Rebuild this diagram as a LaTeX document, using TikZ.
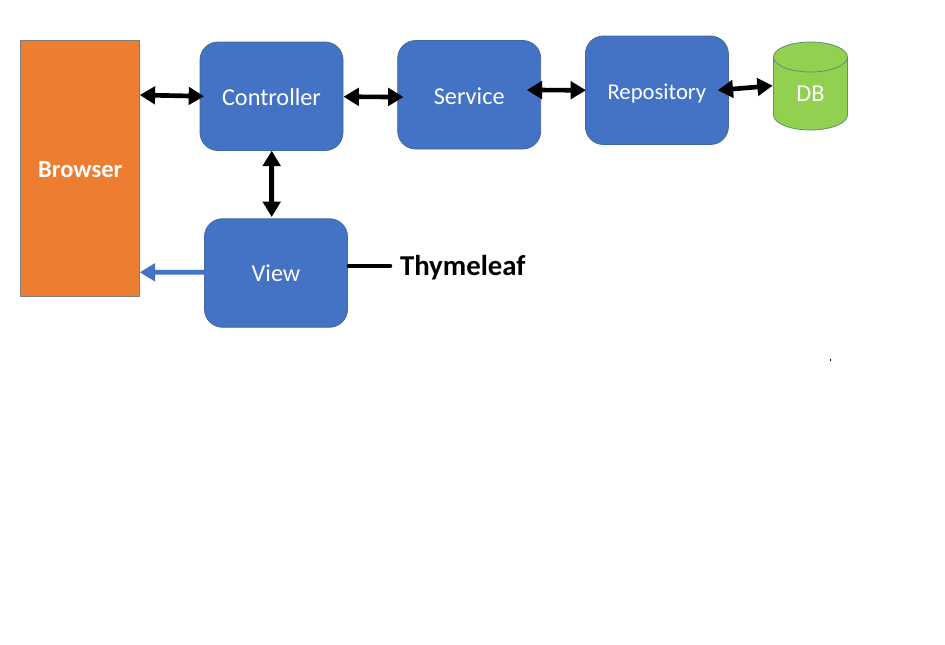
\documentclass[tikz,border=0pt]{standalone}
\usepackage{fontspec}
\setmainfont{Carlito}
\usetikzlibrary{arrows.meta}
\definecolor{boxblue}{HTML}{4472C4}
\definecolor{boxedge}{HTML}{41699F}
\definecolor{orangefill}{HTML}{ED7D31}
\definecolor{orangeedge}{HTML}{7F7F80}
\definecolor{greenfill}{HTML}{92D050}
\definecolor{greenedge}{HTML}{5F8F70}
\newcommand{\baseoff}[2]{\raisebox{-#1}[0pt][0pt]{#2}}
\tikzset{
  x=0.75pt, y=-0.75pt,
  bluebox/.style={draw=boxedge, fill=boxblue, line width=0.6pt, rounded corners=13.5pt,
    minimum width=143*0.75pt, minimum height=108.5*0.75pt, inner sep=0pt, outer sep=0pt,
    text=white, font=\fontsize{18.2pt}{22pt}\selectfont},
  browserbox/.style={draw=orangeedge, fill=orangefill, line width=0.6pt,
    minimum width=119*0.75pt, minimum height=256*0.75pt, inner sep=0pt, outer sep=0pt,
    text=white, font=\fontsize{18.4pt}{22pt}\selectfont\bfseries},
  dbshape/.style={draw=greenedge, fill=greenfill, line width=0.6pt},
  dblabel/.style={minimum width=74*0.75pt, minimum height=72*0.75pt, inner sep=0pt, outer sep=0pt,
    text=white, font=\fontsize{18.2pt}{22pt}\selectfont},
  thymelabel/.style={inner sep=0pt, outer sep=0pt, text=black, font=\fontsize{21.6pt}{26pt}\selectfont\bfseries},
  biarrow/.style={draw=black, line width=3.5pt, {Triangle[length=11.5pt,width=13pt]}-{Triangle[length=11.5pt,width=13pt]}},
  bluearrow/.style={draw=boxblue, line width=3.5pt, -{Triangle[length=11.5pt,width=13pt]}},
  plainline/.style={draw=black, line width=3.5pt, line cap=round},
}
\begin{document}
\begin{tikzpicture}
\useasboundingbox (0,0) rectangle (945,644);
\fill[white] (0,0) rectangle (945,644);
\node[browserbox] (browser) at (80.25,168.75) {\baseoff{6.4pt}{Browser}};
\node[bluebox] (controller) at (271.5,96.25) {\baseoff{6.6pt}{Controller}};
\node[bluebox] (service) at (469.2,94.75) {\baseoff{7.1pt}{Service}};
\node[bluebox] (repository) at (656.9,90.25) {\baseoff{6.6pt}{\fontsize{17pt}{20pt}\selectfont Repository}};
\node[bluebox] (view) at (276,273) {\baseoff{6.5pt}{View}};
\path[dbshape] (773.5,57) arc[start angle=180,end angle=0,x radius=27.75pt,y radius=11.25pt]
  -- (847.5,115) arc[start angle=0,end angle=-180,x radius=27.75pt,y radius=11.25pt] -- cycle;
\path[dbshape] (773.5,57) arc[start angle=180,end angle=360,x radius=27.75pt,y radius=11.25pt];
\node[dblabel] (db) at (810.5,94) {\baseoff{5.8pt}{DB}};
\node[thymelabel, anchor=west] (thyme) at (400,266) {\baseoff{6.75pt}{Thymeleaf}};
\fill[black] (829.5,359) rectangle (831,360.5);
\draw[biarrow] ([shift={(0,-73.75)}]browser.east) -- ([shift={(4,0)}]controller.west);
\draw[biarrow] ([shift={(0.5,0.5)}]controller.east) -- ([shift={(5.8,2.25)}]service.west);
\draw[biarrow] ([shift={(-14,-4.75)}]service.east) -- ([shift={(0.6,0)}]repository.west);
\draw[biarrow] ([shift={(-10.7,0)}]repository.east) -- ([shift={(-0.8,-8.3)}]db.west);
\draw[biarrow, line width=3.8pt] ([shift={(0.2,0.2)}]controller.south) -- ([shift={(-4.3,-1.75)}]view.north);
\draw[bluearrow] ([shift={(0,-0.7)}]view.west) -- ([shift={(0,103.55)}]browser.east);
\draw[plainline] ([shift={(1.5,-7)}]view.east) -- ([shift={(-10,0)}]thyme.west);
\end{tikzpicture}
\end{document}
